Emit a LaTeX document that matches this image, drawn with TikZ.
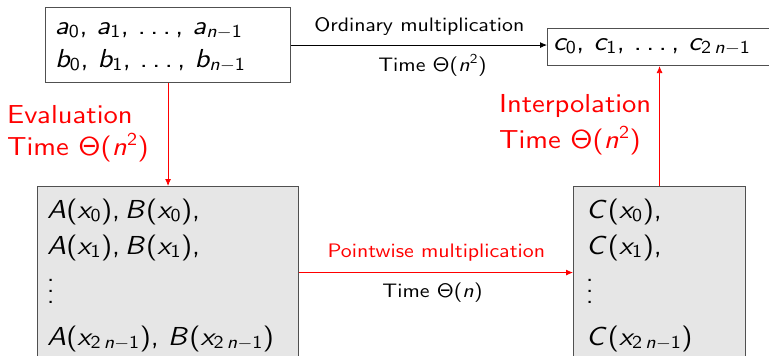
\documentclass[tikz,border=0pt]{standalone}
\usepackage[OT1]{fontenc}
\usetikzlibrary{arrows.meta}
\DeclareFontFamily{OT1}{cmss}{\hyphenchar\font45 }
\DeclareFontShape{OT1}{cmss}{m}{n}{<-> cmss10}{}
\DeclareFontShape{OT1}{cmss}{m}{sl}{<-> cmssi10}{}
\DeclareFontShape{OT1}{cmss}{m}{it}{<->ssub * cmss/m/sl}{}
\renewcommand{\familydefault}{cmss}
\DeclareMathVersion{sans}
\SetSymbolFont{operators}{sans}{OT1}{cmss}{m}{n}
\SetSymbolFont{letters}{sans}{OT1}{cmss}{m}{sl}
\DeclareMathSymbol{,}{\mathpunct}{operators}{"2C}
\DeclareMathSymbol{\ldotp}{\mathpunct}{operators}{"2E}
\definecolor{boxgray}{HTML}{E6E6E6}
\definecolor{edgegray}{HTML}{505050}
\newcommand{\bigvdots}{\smash{\vbox{\baselineskip11pt \lineskiplimit0pt \hbox{.}\hbox{.}\hbox{.}}}}
\newcommand{\xb}[1]{\scalebox{1.1}[1]{#1}}
\newcommand{\xsm}[1]{\scalebox{1.12}[1]{#1}}
\newcommand{\cm}{,\mkern3mu}
\tikzset{
  box/.style={draw=edgegray, line width=1.1pt, inner sep=0pt, anchor=north west},
  bigtxt/.style={font=\fontsize{26}{36}\selectfont, align=left, inner sep=0pt},
  smalltxt/.style={font=\fontsize{19.5}{22}\selectfont, inner sep=0pt, anchor=base},
  conn/.style={line width=0.8pt, -{Latex[length=7pt,width=6pt]}},
}
\begin{document}
\mathversion{sans}
\begin{tikzpicture}[x=1pt,y=-1pt]
\useasboundingbox (0,0) rectangle (769,356);
\clip (0,0) rectangle (769,356);
% boxes
\node[box, minimum width=245pt, minimum height=75pt] (ab) at (45,7) {};
\node[box, minimum width=228pt, minimum height=37pt] (c) at (547,28) {};
\node[box, fill=boxgray, minimum width=261pt, minimum height=172pt] (A) at (37,186) {};
\node[box, fill=boxgray, minimum width=172pt, minimum height=172pt] (C) at (573,186) {};
% box texts
\node[bigtxt, anchor=base west, font=\fontsize{26}{33}\selectfont] (abt) at (55,67) {\xb{$a_0\cm a_1\cm \ldots\cm a_{n-1}$}\\ \xb{$b_0\cm b_1\cm \ldots\cm b_{n-1}$}};
\node[bigtxt, anchor=base west] (ct) at (553,50) {\xb{$c_0\cm c_1\cm \ldots\cm c_{2\,n-1}$}};
\node[bigtxt, anchor=base west] (At) at (47,345) {\xb{$A(x_0), B(x_0)$,}\\ \xb{$A(x_1), B(x_1)$,}\\[13pt] \bigvdots\\[6pt] \xb{$A(x_{2\,n-1})\cm B(x_{2\,n-1})$}};
\node[bigtxt, anchor=base west] (Ct) at (586,345) {\xb{$C(x_0)$,}\\ \xb{$C(x_1)$,}\\[13pt] \bigvdots\\[6pt] \xb{$C(x_{2\,n-1})$}};
% connectors
\draw[conn, draw=black, fill=black] (ab.east) -- (ab.east -| c.west);
\draw[conn, draw=red, fill=red] (ab.south) -- (ab.south |- A.north);
\draw[conn, draw=red, fill=red] (C.north) -- (C.north |- c.south);
\draw[conn, draw=red, fill=red] (A.east) -- (A.east -| C.west);
% labels
\node[smalltxt] (om) at (419.5,31) {\xsm{Ordinary multiplication}};
\node[smalltxt] (omt) at (432.5,71) {\xsm{Time $\Theta(n^2)$}};
\node[smalltxt, text=red] (pm) at (436.5,257) {\xsm{Pointwise multiplication}};
\node[smalltxt] (pmt) at (432.5,297) {\xsm{Time $\Theta(n)$}};
\node[bigtxt, text=red, anchor=base west, font=\fontsize{26}{32}\selectfont] (ev) at (7,155) {\xb{Evaluation}\\ \xb{Time $\Theta(n^2)$}};
\node[bigtxt, text=red, anchor=base west] (ip) at (499,148) {\xb{Interpolation}\\ \xb{Time $\Theta(n^2)$}};
\end{tikzpicture}
\end{document}
